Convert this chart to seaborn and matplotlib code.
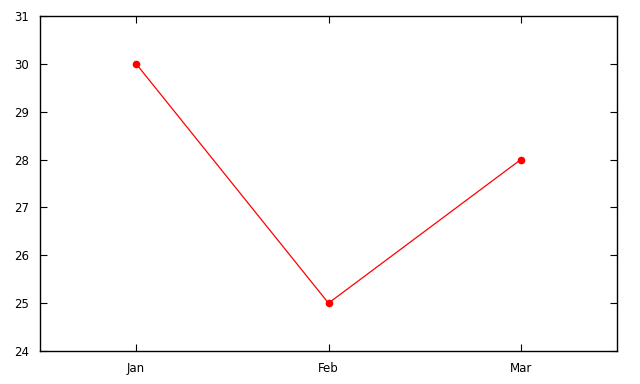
import matplotlib
matplotlib.use("Agg")
import matplotlib.pyplot as plt
import seaborn as sns
import pandas as pd

months = ["Jan", "Feb", "Mar"]
values = [30, 25, 28]
y_ticks = [24, 25, 26, 27, 28, 29, 30, 31]

sns.set_theme(style="white")
plt.rcParams['font.family'] = ['DejaVu Sans']

df = pd.DataFrame({"month": months, "value": values})

fig = plt.figure(figsize=(6.4, 3.84), dpi=100)
ax = fig.add_axes([40/640, 1-351/384, (617-40)/640, (351-16)/384])
sns.lineplot(data=df, x="month", y="value", ax=ax, color="#ff0000",
             linewidth=0.9, marker="o", markersize=5.5, markeredgewidth=0,
             sort=False)
ax.set_xlim(-0.5, 2.5)
ax.set_ylim(24, 31)
ax.set_yticks(y_ticks)
ax.set_xlabel("")
ax.set_ylabel("")
for s in ax.spines.values():
    s.set_color("black")
    s.set_linewidth(1.0)
ax.tick_params(direction="in", length=5, width=0.8, color="black",
               top=True, right=True, bottom=True, left=True,
               labelsize=8.5, labelcolor="black", pad=8)
fig.savefig("out.png", dpi=100)
